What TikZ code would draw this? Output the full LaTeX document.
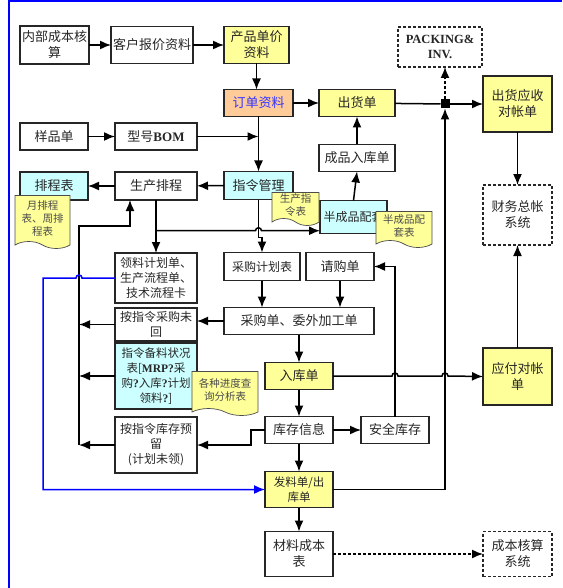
\documentclass[tikz,border=0pt]{standalone}
\usepackage{fontspec}
\setmainfont{Liberation Serif}
\newfontfamily\cjk{Noto Sans CJK SC}
\usepackage{tikz}
\usetikzlibrary{shapes.geometric, shapes.symbols, arrows.meta, calc, positioning}
\definecolor{boxyellow}{HTML}{FFFF99}
\definecolor{boxcyan}{HTML}{CCFFFF}
\definecolor{boxorange}{HTML}{FFCC99}
\tikzstyle{block} = [rectangle, line width=1.8pt, inner sep=1pt, outer sep=0pt, align=center, draw=black!85, text=black!85, font=\cjk\fontsize{13}{16}\selectfont]
\tikzstyle{dblock} = [block, line width=1.5pt, dash pattern=on 3pt off 2pt]
\tikzstyle{smalltext} = [font=\cjk\fontsize{12}{15}\selectfont]
\tikzstyle{memo} = [tape, tape bend top=none, tape bend bottom=out and in, tape bend height=7pt, line width=0.7pt, draw=black!70, fill=boxyellow, align=center, inner sep=1pt, text=black!70, font=\cjk\fontsize{10.5}{13}\selectfont]
\tikzstyle{junction} = [rectangle, fill=black, minimum size=9pt, inner sep=0pt, outer sep=0pt]
\tikzstyle{wire} = [line width=1.5pt]
\tikzstyle{arrow} = [wire, -{Latex[length=11pt, width=9pt]}]

\begin{document}
\begin{tikzpicture}[x=1pt, y=-1pt, node distance = 10pt, auto]
	\useasboundingbox (0,0) rectangle (562,588);
	\draw [blue, line width=2pt] (9,588) -- (9,1) -- (562,1);
	\node (CostIn) [block, minimum width=69pt, minimum height=38pt] at (54.5,45) {内部成本核\\算};
	\node (Quote) [block, minimum width=82pt, minimum height=37pt, right = 22pt of CostIn] {客户报价资料};
	\node (UnitPrice) [block, fill=boxyellow, minimum width=65pt, minimum height=37pt, right = 31pt of Quote] {产品单价\\资料};
	\node (Order) [block, fill=boxorange, text=blue!80, minimum width=69pt, minimum height=27pt, below right = 26pt and 0pt of UnitPrice.south west] {订单资料};
	\node (OrderMgmt) [block, fill=boxcyan, minimum width=69pt, minimum height=28pt, below = 55pt of Order] {指令管理};
	\node (Sample) [block, minimum width=68pt, minimum height=27pt] at (54,136.5) {样品单};
	\node (ModelBom) [block, minimum width=82pt, minimum height=27pt, right = 27pt of Sample] {型号{\rmfamily\bfseries BOM}};
	\node (ProdPlan) [block, minimum width=82pt, minimum height=28pt, below = 22pt of ModelBom] {生产排程};
	\node (PlanTable) [block, fill=boxcyan, minimum width=68pt, minimum height=28pt, below = 22pt of Sample] {排程表};
	\node (PickPlan) [block, smalltext, minimum width=82pt, minimum height=50pt, below = 53pt of ProdPlan] {领料计划单、\\生产流程单、\\技术流程卡};
	\node (OpenBuy) [block, smalltext, minimum width=82pt, minimum height=33pt, below = 5pt of PickPlan] {按指令采购未\\回};
	\node (KitStatus) [block, fill=boxcyan, font=\cjk\fontsize{11.5}{15}\selectfont, minimum width=82pt, minimum height=66pt, below = 2pt of OpenBuy] {指令备料状况\\表[{\rmfamily\bfseries MRP?}采\\购{\rmfamily\bfseries ?}入库{\rmfamily\bfseries ?}计划\\领料{\rmfamily\bfseries ?}]};
	\node (Reserve) [block, smalltext, minimum width=82pt, minimum height=56pt, below = 8pt of KitStatus] {按指令库存预\\留\\(计划未领)};
	\node (BuyPlan) [block, smalltext, minimum width=76pt, minimum height=28pt, below right = 53pt and 0pt of OrderMgmt.south west] {采购计划表};
	\node (Requisition) [block, minimum width=68pt, minimum height=28pt, right = 6pt of BuyPlan] {请购单};
	\node (PurchOrder) [block, minimum width=150pt, minimum height=27pt, below right = 27pt and 0pt of BuyPlan.south west] {采购单、委外加工单};
	\node (StockIn) [block, fill=boxyellow, minimum width=68pt, minimum height=27pt, below = 28pt of PurchOrder] {入库单};
	\node (StockInfo) [block, minimum width=68pt, minimum height=27pt, below = 27pt of StockIn] {库存信息};
	\node (SafeStock) [block, minimum width=68pt, minimum height=27pt, right = 28pt of StockInfo] {安全库存};
	\node (Issue) [block, fill=boxyellow, font=\cjk\fontsize{11.5}{15}\selectfont, minimum width=68pt, minimum height=36pt, below = 28pt of StockInfo] {发料单/出\\库单};
	\node (MatCost) [block, minimum width=68pt, minimum height=45pt, below = 24pt of Issue] {材料成本\\表};
	\node (CostSys) [dblock, minimum width=69pt, minimum height=45pt, right = 150pt of MatCost] {成本核算\\系统};
	\node (Shipping) [block, fill=boxyellow, minimum width=76pt, minimum height=27pt, right = 26pt of Order] {出货单};
	\node (GoodsIn) [block, minimum width=76pt, minimum height=27pt, below = 28pt of Shipping] {成品入库单};
	\node (SemiKit) [block, smalltext, fill=boxcyan, minimum width=67pt, minimum height=33pt, below = 29pt of GoodsIn, xshift=-3.5pt] {半成品配套};
	\node (ShipJoin) [junction] at (445,104) {};
	\node (Packing) [dblock, font=\rmfamily\bfseries\fontsize{12.5}{15}\selectfont, minimum width=84pt, minimum height=40pt] at (440,47) {PACKING\&\\INV.};
	\node (Receivable) [block, fill=boxyellow, minimum width=69pt, minimum height=56pt, right = 33.5pt of ShipJoin] {出货应收\\对帐单};
	\node (Ledger) [dblock, minimum width=69pt, minimum height=60pt, below = 53pt of Receivable] {财务总帐\\系统};
	\node (Payable) [block, fill=boxyellow, minimum width=69pt, minimum height=57pt, below = 103pt of Ledger] {应付对帐\\单};
	\node (PlanNote) [memo, minimum width=55pt, minimum height=53pt] at (42.5,218.5) {月排程\\表、周排\\程表};
	\node (OrderNote) [memo, minimum width=47pt, minimum height=33pt] at (295.5,205.5) {生产指\\令表};
	\node (SemiNote) [memo, minimum width=56pt, minimum height=36pt] at (404,226) {半成品配\\套表};
	\node (StatusNote) [memo, minimum width=66pt, minimum height=44pt] at (225,390) {各种进度查\\询分析表};
	\path (ProdPlan.south) -- (PickPlan.north) coordinate[pos=0.58] (ProdPlan1);
	\coordinate (Reserve1) at ($(Reserve.west)+(-36,0)$);
	\draw [arrow] (CostIn) -- (Quote);
	\draw [arrow] (Quote) -- (UnitPrice);
	\draw [arrow] (UnitPrice.south) -- (UnitPrice.south |- Order.north);
	\draw [arrow] (Order) -- (Shipping);
	\draw [arrow] (Order) -- (OrderMgmt);
	\draw [arrow] (Sample) -- (ModelBom);
	\draw [arrow] (ModelBom) -- (ModelBom -| Order);
	\draw [arrow] (OrderMgmt) -- (ProdPlan);
	\draw [arrow] (ProdPlan) -- (PlanTable);
	\draw [arrow] (OrderMgmt.south) -- ++(0,38) -| (BuyPlan.north);
	\draw [arrow] (ProdPlan) -- (PickPlan);
	\draw [arrow] (ProdPlan1) -- ($(ProdPlan1 -| OrderMgmt)+(-3,0)$) arc[start angle=180, end angle=0, radius=3pt] -- (ProdPlan1 -| SemiKit.west);
	\draw [arrow] (SemiKit.north) -- (GoodsIn.south);
	\draw [arrow] (GoodsIn) -- (Shipping);
	\draw [wire] (Shipping) -- (ShipJoin);
	\draw [arrow] (ShipJoin) -- (Receivable);
	\draw [arrow, dash pattern=on 3pt off 2pt] (ShipJoin) -- (ShipJoin |- Packing.south);
	\draw [arrow] (Issue.east) -| (ShipJoin.south);
	\draw [arrow] (Receivable) -- (Ledger);
	\draw [arrow] (Payable) -- (Ledger);
	\draw [arrow] (StockIn.east) -- ($(StockIn.east -| SafeStock.north)+(-3,0)$) arc[start angle=180, end angle=0, radius=3pt] -- ($(StockIn.east -| ShipJoin)+(-3,0)$) arc[start angle=180, end angle=0, radius=3pt] -- (Payable.west);
	\draw [arrow] (SafeStock.north) |- (Requisition.east);
	\draw [arrow] (Requisition) -- (Requisition |- PurchOrder.north);
	\draw [arrow] (BuyPlan) -- (BuyPlan |- PurchOrder.north);
	\draw [arrow] (PurchOrder) -- (StockIn);
	\draw [arrow] (PurchOrder.west) -- (PurchOrder.west -| OpenBuy.east);
	\draw [arrow] (StockIn) -- (StockInfo);
	\draw [arrow] (StockInfo) -- (SafeStock);
	\draw [arrow] (StockInfo) -- (Issue);
	\draw [arrow] (StockInfo.west) -- ++(-14,0) |- (Reserve.east);
	\draw [arrow] (Issue) -- (MatCost);
	\draw [arrow, dash pattern=on 3pt off 2pt] (MatCost) -- (CostSys);
	\draw [arrow] (OpenBuy.west) -- (OpenBuy.west -| Reserve1);
	\draw [arrow] (KitStatus.west) -- (KitStatus.west -| Reserve1);
	\draw [arrow] (Reserve.west) -- (Reserve1);
	\draw [arrow] (Reserve1) |- ($(ProdPlan.south)+(-26,26)$) -- ($(ProdPlan.south)+(-26,0)$);
	\draw [arrow, blue] (PickPlan.west) -- ($(PickPlan.west -| Reserve1)+(3,0)$) arc[start angle=0, end angle=180, radius=3pt] -- ++(-33,0) |- (Issue.west);
\end{tikzpicture}
\end{document}
